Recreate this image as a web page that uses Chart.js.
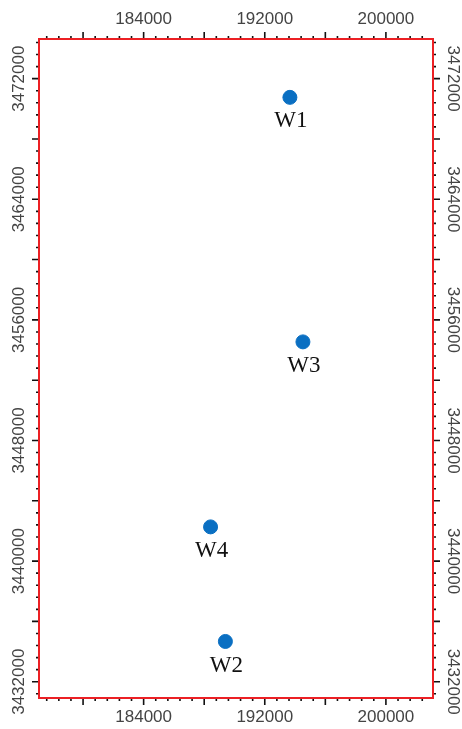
<!DOCTYPE html>
<html>
<head>
<meta charset="utf-8">
<script src="https://cdn.jsdelivr.net/npm/chart.js@4"></script>
<style>
  html, body { margin: 0; padding: 0; background: #fff; }
  #wrap { width: 462px; height: 729px; }
</style>
</head>
<body>
<div id="wrap"><canvas id="myChart" width="462" height="729"></canvas></div>
<script>
// well positions (easting / northing)
const wellNames = ["W1", "W2", "W3", "W4"];
const eastings = [193660, 189400, 194520, 188420];
const northings = [3470760, 3434670, 3454540, 3442270];

// axis ranges and labelled ticks
const xRange = [177090, 203110];
const yRange = [3430920, 3474630];
const xLabelTicks = [184000, 192000, 200000];
const yLabelTicks = [3432000, 3440000, 3448000, 3456000, 3464000, 3472000];
const minorStep = 800;
const majorStep = 4000;

const points = eastings.map((e, i) => ({ x: e, y: northings[i] }));

const frameColor = "rgb(236, 32, 36)";
const labelColor = "#444";
const labelFont = "17px 'Liberation Sans', Arial, sans-serif";

// draws the red frame, outward ticks on all 4 sides, tick labels and well names
const mapFrame = {
  id: "mapFrame",
  afterDatasetsDraw(chart) {
    const ctx = chart.ctx;
    const area = chart.chartArea;
    const xs = chart.scales.x;
    const ys = chart.scales.y;

    ctx.save();

    // ticks
    ctx.strokeStyle = "#111";
    ctx.lineWidth = 1.6;
    ctx.beginPath();
    let v = Math.ceil(xs.min / minorStep) * minorStep;
    for (; v <= xs.max; v += minorStep) {
      const px = xs.getPixelForValue(v);
      const len = v % majorStep === 0 ? 7 : 3;
      ctx.moveTo(px, area.top);
      ctx.lineTo(px, area.top - len);
      ctx.moveTo(px, area.bottom);
      ctx.lineTo(px, area.bottom + len);
    }
    v = Math.ceil(ys.min / minorStep) * minorStep;
    for (; v <= ys.max; v += minorStep) {
      const py = ys.getPixelForValue(v);
      const len = v % majorStep === 0 ? 7 : 3;
      ctx.moveTo(area.left, py);
      ctx.lineTo(area.left - len, py);
      ctx.moveTo(area.right, py);
      ctx.lineTo(area.right + len, py);
    }
    ctx.stroke();

    // frame
    ctx.strokeStyle = frameColor;
    ctx.lineWidth = 2;
    ctx.strokeRect(area.left, area.top, area.right - area.left, area.bottom - area.top);

    // tick labels
    ctx.fillStyle = labelColor;
    ctx.font = labelFont;
    ctx.textAlign = "center";
    ctx.textBaseline = "middle";
    xLabelTicks.forEach((t) => {
      const px = xs.getPixelForValue(t);
      ctx.fillText(String(t), px, 19);
      ctx.fillText(String(t), px, 717);
    });
    yLabelTicks.forEach((t) => {
      const py = ys.getPixelForValue(t);
      ctx.save();
      ctx.translate(19.5, py);
      ctx.rotate(-Math.PI / 2);
      ctx.fillText(String(t), 0, 0);
      ctx.restore();
      ctx.save();
      ctx.translate(453, py);
      ctx.rotate(Math.PI / 2);
      ctx.fillText(String(t), 0, 0);
      ctx.restore();
    });

    // well names under the markers
    ctx.fillStyle = "#111";
    ctx.font = "23px 'Liberation Serif', 'Times New Roman', serif";
    const meta = chart.getDatasetMeta(0);
    meta.data.forEach((pt, i) => {
      ctx.fillText(wellNames[i], pt.x + 1, pt.y + 24);
    });

    ctx.restore();
  },
};

const ctx = document.getElementById("myChart").getContext("2d");
window.myChart = new Chart(ctx, {
  type: "scatter",
  data: {
    datasets: [
      {
        label: "Wells",
        data: points,
        backgroundColor: "#0a6fc2",
        borderColor: "#0a6fc2",
        pointRadius: 7,
        pointHoverRadius: 7,
      },
    ],
  },
  options: {
    responsive: false,
    animation: false,
    layout: { padding: { left: 39, top: 39, right: 29, bottom: 31 } },
    plugins: {
      legend: { display: false },
      tooltip: { enabled: false },
    },
    scales: {
      x: { type: "linear", display: false, min: xRange[0], max: xRange[1] },
      y: { type: "linear", display: false, min: yRange[0], max: yRange[1] },
    },
  },
  plugins: [mapFrame],
});
</script>
</body>
</html>
